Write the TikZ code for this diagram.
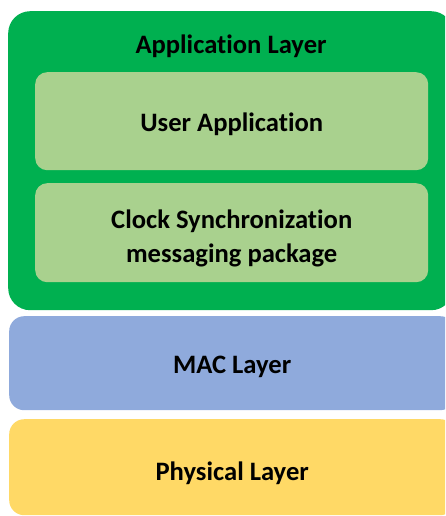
\documentclass[tikz,border=0pt]{standalone}
\usepackage{fontspec}
\setmainfont{Carlito}[Ligatures=NoCommon]
\definecolor{appgreen}{HTML}{00B050}
\definecolor{innergreen}{HTML}{A9D18E}
\definecolor{macblue}{HTML}{8FAADC}
\definecolor{phyyellow}{HTML}{FFD966}
\begin{document}
\begin{tikzpicture}[x=1pt,y=-1pt,
  boxtext/.style={font=\fontsize{26.6}{34}\selectfont\bfseries, text=black,
    align=center, inner sep=0pt},
  layerbox/.style={rectangle, draw=none, anchor=north west, inner sep=0pt},
]
\useasboundingbox (0,0) rectangle (445,516);
\clip (0,0) rectangle (445,516);

% application layer with its two inner blocks
\node[layerbox, fill=appgreen, rounded corners=22pt,
  minimum width=445pt, minimum height=299pt] (app) at (8,11) {};
\node[layerbox, fill=innergreen, rounded corners=12pt,
  minimum width=393pt, minimum height=98pt] (user) at (35,72) {};
\node[layerbox, fill=innergreen, rounded corners=12pt,
  minimum width=393pt, minimum height=99pt] (clock) at (35,183) {};

% lower layers
\node[layerbox, fill=macblue, rounded corners=15pt,
  minimum width=446pt, minimum height=94pt] (mac) at (9,316) {};
\node[layerbox, fill=phyyellow, rounded corners=15pt,
  minimum width=446pt, minimum height=96pt] (phy) at (9,419) {};

% labels
\node[boxtext] (apptitle) at (231,46) {Application Layer};
\node[boxtext] (usertext) at ([yshift=-3pt]user.center) {User Application};
\node[boxtext] (clocktext) at ([yshift=-6pt]clock.center)
  {Clock Synchronization\\messaging package};
\node[boxtext] (mactext) at ([yshift=-4pt]mac.center) {MAC Layer};
\node[boxtext] (phytext) at ([yshift=-6pt]phy.center) {Physical Layer};
\end{tikzpicture}
\end{document}
